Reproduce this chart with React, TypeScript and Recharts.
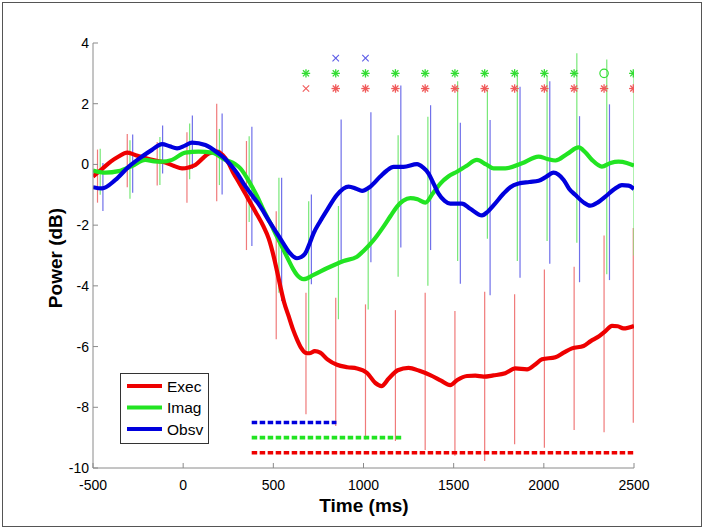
import React from 'react';
import { ComposedChart, Line, XAxis, YAxis, Legend, Label } from 'recharts';

const FONT = '"Liberation Sans", Arial, Helvetica, sans-serif';

// axis ticks
const xTicks = [-500, 0, 500, 1000, 1500, 2000, 2500];
const yTicks = [-10, -8, -6, -4, -2, 0, 2, 4];

// mean power curves: [time ms, power dB]
const execCurve: [number, number][] = [
  [-500, -0.4], [-450, -0.15], [-400, 0.1], [-358, 0.26], [-311, 0.39], [-270, 0.32],
  [-238, 0.26], [-173, 0.15], [-99, 0.06], [-50, -0.05], [-6, -0.13], [30, -0.1],
  [67, -0.02], [105, 0.18], [141, 0.36], [188, 0.42], [220, 0.3], [252, 0.04],
  [280, -0.3], [310, -0.6], [354, -1.06], [400, -1.55], [446, -2.05], [475, -2.45],
  [502, -3.03], [520, -3.5], [539, -4.02], [560, -4.55], [585, -5.0], [610, -5.45],
  [631, -5.76], [655, -6.05], [677, -6.2], [700, -6.22], [730, -6.15], [760, -6.2],
  [800, -6.42], [853, -6.6], [910, -6.68], [964, -6.72], [1020, -6.87], [1066, -7.2],
  [1100, -7.3], [1140, -7.05], [1190, -6.78], [1250, -6.7], [1310, -6.8], [1370, -6.94],
  [1430, -7.12], [1481, -7.27], [1520, -7.1], [1574, -6.97], [1620, -6.96], [1666, -6.99],
  [1720, -6.95], [1786, -6.88], [1842, -6.72], [1907, -6.75], [1950, -6.6], [1990, -6.42],
  [2064, -6.35], [2110, -6.2], [2156, -6.06], [2220, -5.98], [2260, -5.82], [2304, -5.67],
  [2340, -5.5], [2378, -5.32], [2410, -5.33], [2442, -5.4], [2500, -5.32],
];

const imagCurve: [number, number][] = [
  [-500, -0.2], [-432, -0.27], [-358, -0.22], [-284, -0.05], [-210, 0.15], [-160, 0.1],
  [-117, 0.09], [-62, 0.15], [12, 0.39], [86, 0.42], [160, 0.39], [234, 0.15],
  [289, 0.01], [317, -0.13], [372, -0.63], [410, -1.05], [446, -1.51], [485, -1.95],
  [520, -2.38], [555, -2.8], [585, -3.16], [610, -3.45], [631, -3.64], [668, -3.78],
  [723, -3.64], [797, -3.42], [890, -3.18], [964, -3.04], [1000, -2.85], [1038, -2.62],
  [1075, -2.35], [1111, -2.05], [1150, -1.7], [1186, -1.39], [1220, -1.2], [1260, -1.11],
  [1300, -1.15], [1343, -1.26], [1385, -0.95], [1426, -0.63], [1470, -0.4], [1518, -0.24],
  [1570, -0.05], [1629, 0.15], [1680, 0.0], [1721, -0.13], [1786, -0.13], [1879, 0.04],
  [1971, 0.26], [2020, 0.18], [2064, 0.13], [2130, 0.35], [2193, 0.56], [2230, 0.4],
  [2267, 0.15], [2322, -0.07], [2370, 0.05], [2414, 0.09], [2460, 0.05], [2500, -0.04],
];

const obsvCurve: [number, number][] = [
  [-500, -0.75], [-450, -0.79], [-376, -0.51], [-303, -0.08], [-228, 0.26], [-173, 0.48],
  [-117, 0.67], [-75, 0.6], [-34, 0.53], [10, 0.62], [49, 0.72], [123, 0.64],
  [196, 0.36], [230, 0.2], [261, 0.0], [300, -0.3], [335, -0.63], [380, -1.0],
  [428, -1.39], [475, -1.85], [520, -2.27], [555, -2.6], [585, -2.87], [631, -3.09],
  [655, -3.05], [677, -2.93], [700, -2.62], [723, -2.27], [760, -1.87], [797, -1.51],
  [853, -1.0], [917, -0.73], [960, -0.8], [992, -0.87], [1038, -0.73], [1093, -0.4],
  [1130, -0.2], [1167, -0.08], [1222, -0.08], [1297, 0.01], [1330, -0.1], [1361, -0.3],
  [1390, -0.65], [1416, -0.96], [1450, -1.2], [1481, -1.29], [1546, -1.29], [1592, -1.46],
  [1657, -1.68], [1690, -1.55], [1721, -1.35], [1777, -0.96], [1814, -0.75], [1860, -0.63],
  [1920, -0.58], [1971, -0.54], [2010, -0.42], [2054, -0.27], [2080, -0.33], [2110, -0.51],
  [2140, -0.8], [2174, -1.0], [2220, -1.25], [2257, -1.36], [2300, -1.25], [2341, -1.06],
  [2390, -0.82], [2433, -0.68], [2470, -0.7], [2500, -0.81],
];

// error bars (low / high ends)
const execBarTimes = [-475, -310, -144, 21, 186, 351, 516, 681, 846, 1011, 1177, 1342, 1507, 1672, 1838, 2003, 2168, 2334, 2496];
const execBarLow = [-1.26, -0.75, -0.69, -1.26, -1.21, -2.82, -5.76, -8.23, -8.62, -9.06, -9.11, -9.41, -9.6, -9.77, -9.22, -9.33, -8.75, -8.82, -8.51];
const execBarHigh = [0.49, 1.0, 0.74, 1.06, 2.0, 0.77, -1.54, -4.23, -4.39, -4.61, -4.8, -4.23, -4.83, -4.19, -4.28, -3.46, -3.37, -2.34, -2.09];

const imagBarTimes = [-460, -295, -129, 36, 201, 366, 531, 696, 861, 1026, 1192, 1357, 1522, 1687, 1853, 2018, 2183, 2349, 2500];
const imagBarLow = [-1.0, -1.13, -0.68, -0.49, -0.68, -1.9, -4.23, -6.2, -5.1, -4.78, -3.7, -4.0, -3.18, -2.45, -3.18, -2.52, -2.58, -3.62, -3.0];
const imagBarHigh = [0.52, 0.8, 0.9, 1.35, 1.17, 0.93, -0.44, -1.21, -1.37, -0.82, 0.96, 1.57, 2.74, 2.47, 3.05, 2.91, 3.66, 3.46, 3.02];

const obsvBarTimes = [-445, -280, -114, 51, 216, 381, 546, 711, 876, 1041, 1207, 1372, 1537, 1702, 1868, 2033, 2198, 2364];
const obsvBarLow = [-1.53, -0.93, -0.3, -0.15, -0.99, -2.69, -4.5, -3.95, -3.18, -3.22, -2.74, -2.82, -3.93, -4.31, -3.73, -3.27, -3.88, -3.81];
const obsvBarHigh = [0.05, 0.99, 1.28, 1.61, 1.68, 1.24, -0.44, -0.99, 1.48, 1.72, 2.6, 1.95, 1.37, 1.46, 2.56, 2.74, 1.59, 1.98];

// significance markers
const obsvCrossTimes = [846, 1011];
const obsvMarkRow = 3.5;
const imagStarTimes = [681, 846, 1011, 1177, 1342, 1507, 1672, 1838, 2003, 2168, 2496];
const imagCircleTimes = [2334];
const imagMarkRow = 3.0;
const execCrossTimes = [681];
const execStarTimes = [846, 1011, 1177, 1342, 1507, 1672, 1838, 2003, 2168, 2334, 2496];
const execMarkRow = 2.5;

// significant windows (dashed lines)
const obsvWindow = [380, 850];
const obsvWindowLevel = -8.5;
const imagWindow = [380, 1220];
const imagWindowLevel = -9;
const execWindow = [380, 2500];
const execWindowLevel = -9.5;

const RED = '#ee0000';
const GREEN = '#22e422';
const BLUE = '#0000dd';

const legendItems = [
  { name: 'Exec', color: RED },
  { name: 'Imag', color: GREEN },
  { name: 'Obsv', color: BLUE },
];

const pts = (arr: [number, number][]) => arr.map(([t, v]) => ({ t, v }));
const row = (times: number[], v: number) => times.map((t) => ({ t, v }));

const XTick = (props: any) => {
  const { x, y, payload } = props;
  return (
    <g>
      <line x1={x} y1={y} x2={x} y2={y - 5} stroke="#8a8a8a" />
      <text x={x} y={y + 22} textAnchor="middle" fontSize={14} fontFamily={FONT} fill="#000">
        {payload.value}
      </text>
    </g>
  );
};

const YTick = (props: any) => {
  const { x, y, payload } = props;
  return (
    <g>
      <line x1={x} y1={y} x2={x + 5} y2={y} stroke="#8a8a8a" />
      <text x={x - 4} y={y + 5} textAnchor="end" fontSize={14} fontFamily={FONT} fill="#000">
        {payload.value}
      </text>
    </g>
  );
};

const starDot = (color: string) => (p: any) => {
  const { cx, cy, index } = p;
  const r = 4.2;
  const d = r * 0.72;
  return (
    <g key={'s' + index} stroke={color} strokeWidth={1.3}>
      <line x1={cx - r} y1={cy} x2={cx + r} y2={cy} />
      <line x1={cx} y1={cy - r} x2={cx} y2={cy + r} />
      <line x1={cx - d} y1={cy - d} x2={cx + d} y2={cy + d} />
      <line x1={cx - d} y1={cy + d} x2={cx + d} y2={cy - d} />
    </g>
  );
};

const crossDot = (color: string) => (p: any) => {
  const { cx, cy, index } = p;
  const r = 3.2;
  return (
    <g key={'x' + index} stroke={color} strokeWidth={1.1}>
      <line x1={cx - r} y1={cy - r} x2={cx + r} y2={cy + r} />
      <line x1={cx - r} y1={cy + r} x2={cx + r} y2={cy - r} />
    </g>
  );
};

const circleDot = (color: string) => (p: any) => {
  const { cx, cy, index } = p;
  return <circle key={'o' + index} cx={cx} cy={cy} r={4.2} fill="none" stroke={color} strokeWidth={1.2} />;
};

const LegendBox = () => (
  <svg width={89} height={71} style={{ display: 'block' }}>
    <rect x={0.5} y={0.5} width={88} height={70} fill="#fff" stroke="#333" strokeWidth={1} />
    {legendItems.map((it, i) => (
      <g key={it.name}>
        <line x1={7} y1={13 + i * 21.5} x2={42} y2={13 + i * 21.5} stroke={it.color} strokeWidth={4} />
        <text x={47} y={18.5 + i * 21.5} fontSize={15.5} fontFamily={FONT} fill="#000">
          {it.name}
        </text>
      </g>
    ))}
  </svg>
);

const errorBars = (times: number[], low: number[], high: number[], color: string, prefix: string) =>
  times.map((t, i) => (
    <Line
      key={prefix + i}
      data={[{ t, v: low[i] }, { t, v: high[i] }]}
      dataKey="v"
      type="linear"
      stroke={color}
      strokeWidth={1.2}
      dot={false}
      activeDot={false}
      legendType="none"
      isAnimationActive={false}
    />
  ));

const markerLine = (key: string, data: { t: number; v: number }[], dot: any) => (
  <Line
    key={key}
    data={data}
    dataKey="v"
    stroke="none"
    dot={dot}
    activeDot={false}
    legendType="none"
    isAnimationActive={false}
  />
);

const dashed = (key: string, win: number[], level: number, color: string) => (
  <Line
    key={key}
    data={win.map((t) => ({ t, v: level }))}
    dataKey="v"
    type="linear"
    stroke={color}
    strokeWidth={3.6}
    strokeDasharray="5.5 2.5"
    dot={false}
    activeDot={false}
    legendType="none"
    isAnimationActive={false}
  />
);

export default function App() {
  return (
    <div style={{ position: 'absolute', left: 0, top: 0, width: 704, height: 530, background: '#fff' }}>
      <div
        style={{
          position: 'absolute',
          left: 2,
          top: 2,
          width: 698,
          height: 523,
          border: '1px solid #555',
        }}
      />
      <ComposedChart width={704} height={530} margin={{ top: 43, right: 70, left: 33, bottom: 10 }}>
        <XAxis
          dataKey="t"
          type="number"
          domain={[-500, 2500]}
          ticks={xTicks}
          allowDataOverflow
          tickSize={0}
          tickMargin={0}
          height={52}
          axisLine={{ stroke: '#8a8a8a' }}
          tickLine={false}
          tick={<XTick />}
        >
          <Label
            content={() => (
              <text x={364} y={512} textAnchor="middle" fontSize={19} fontWeight="bold" fontFamily={FONT} fill="#000">
                Time (ms)
              </text>
            )}
          />
        </XAxis>
        <YAxis
          type="number"
          domain={[-10, 4]}
          ticks={yTicks}
          allowDataOverflow
          tickSize={0}
          tickMargin={0}
          width={60}
          axisLine={{ stroke: '#8a8a8a' }}
          tickLine={false}
          tick={<YTick />}
        >
          <Label
            content={() => (
              <text
                x={62}
                y={258}
                transform="rotate(-90 62 258)"
                textAnchor="middle"
                fontSize={19}
                fontWeight="bold"
                fontFamily={FONT}
                fill="#000"
              >
                Power (dB)
              </text>
            )}
          />
        </YAxis>

        {errorBars(execBarTimes, execBarLow, execBarHigh, '#f07a7a', 'er')}
        {errorBars(imagBarTimes, imagBarLow, imagBarHigh, '#78e878', 'ei')}
        {errorBars(obsvBarTimes, obsvBarLow, obsvBarHigh, '#7070ea', 'eo')}

        <Line data={pts(execCurve)} dataKey="v" type="monotone" stroke={RED} strokeWidth={4.2} dot={false} activeDot={false} isAnimationActive={false} />
        <Line data={pts(imagCurve)} dataKey="v" type="monotone" stroke={GREEN} strokeWidth={4.2} dot={false} activeDot={false} isAnimationActive={false} />
        <Line data={pts(obsvCurve)} dataKey="v" type="monotone" stroke={BLUE} strokeWidth={4.2} dot={false} activeDot={false} isAnimationActive={false} />

        {dashed('dw-o', obsvWindow, obsvWindowLevel, BLUE)}
        {dashed('dw-i', imagWindow, imagWindowLevel, GREEN)}
        {dashed('dw-e', execWindow, execWindowLevel, RED)}

        {markerLine('mo-x', row(obsvCrossTimes, obsvMarkRow), crossDot('#5a5ae6'))}
        {markerLine('mi-s', row(imagStarTimes, imagMarkRow), starDot('#33dd33'))}
        {markerLine('mi-o', row(imagCircleTimes, imagMarkRow), circleDot('#33dd33'))}
        {markerLine('me-x', row(execCrossTimes, execMarkRow), crossDot('#f05a5a'))}
        {markerLine('me-s', row(execStarTimes, execMarkRow), starDot('#f05a5a'))}

        <Legend
          layout="vertical"
          align="center"
          verticalAlign="middle"
          content={() => <LegendBox />}
          wrapperStyle={{ left: 120, top: 373, width: 89, height: 71 }}
        />
      </ComposedChart>
    </div>
  );
}
